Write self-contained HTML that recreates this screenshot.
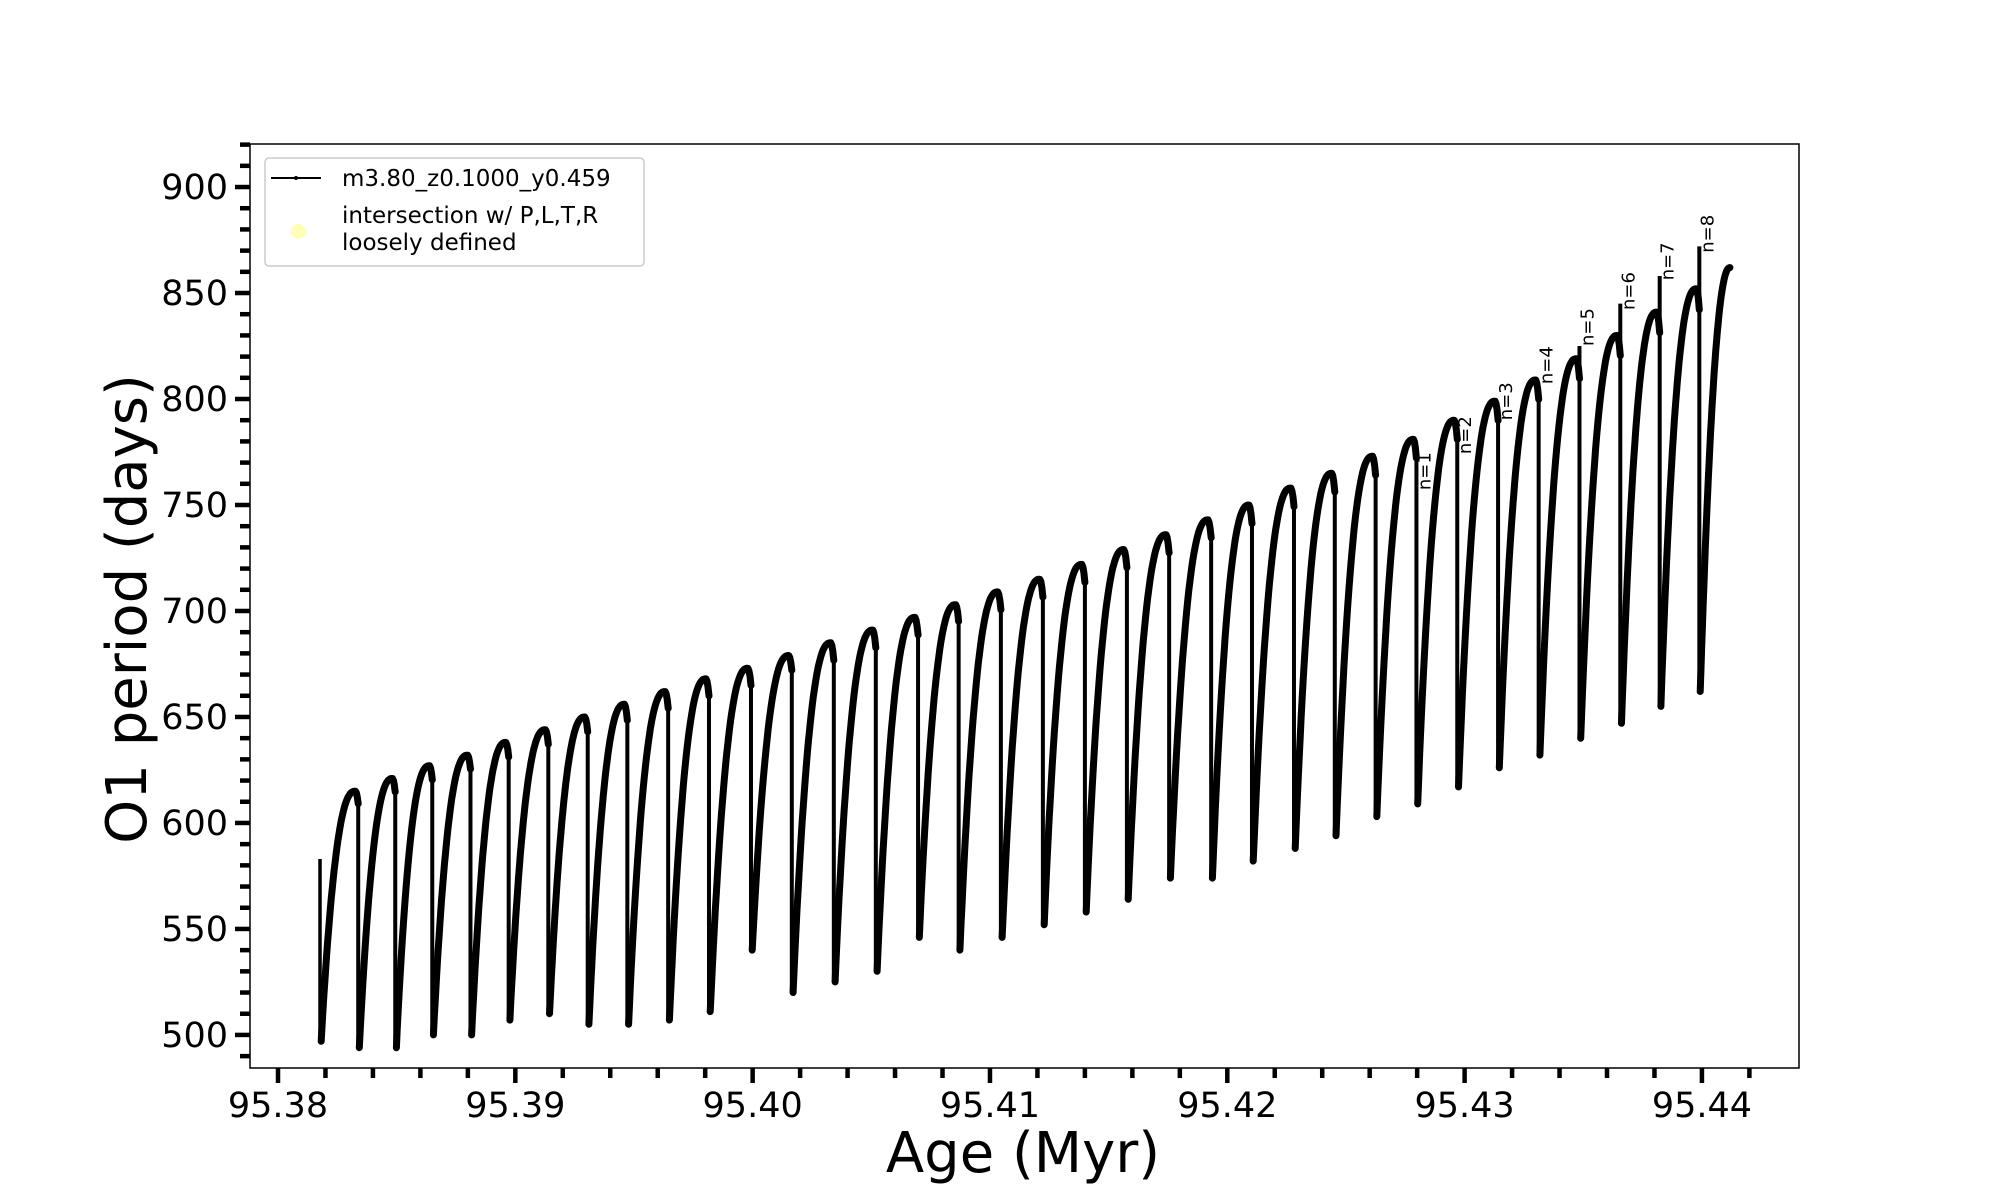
<!DOCTYPE html>
<html><head><meta charset="utf-8"><style>
html,body{margin:0;padding:0;background:#fff;}
svg{display:block;font-family:"DejaVu Sans","Liberation Sans",sans-serif;}
</style></head><body>
<svg id="chart" width="2000" height="1200" viewBox="0 0 2000 1200">
<rect x="0" y="0" width="2000" height="1200" fill="#fff"/>
<g id="plot"></g>
</svg>
<script>
// data
const dropAges = [95.38177,95.38338,95.38494,95.38650,95.38811,95.38972,95.39139,95.39305,95.39472,95.39644,95.39816,95.39993,95.40165,95.40342,95.40519,95.40697,95.40868,95.41046,95.41223,95.41400,95.41577,95.41755,95.41932,95.42104,95.42281,95.42453,95.42625,95.42797,95.42969,95.43141,95.43312,95.43484,95.43656,95.43822,95.43989];
const minPeriods = [497,494,494,500,500,507,510,505,505,507,511,540,520,525,530,546,540,546,552,558,564,574,574,582,588,594,603,609,617,626,632,640,647,655,662];
const peakPeriods = [615,621,627,632,638,644,650,656,662,668,673,679,685,691,697,703,709,715,722,729,736,743,750,758,765,773,781,790,799,809,819,830,841,852];
const startPeriod = 583;
const endAge = 95.44118;
const endPeriod = 862;
const spikeIndex = [31,32,33,34];
const spikeTops = [825,845,858,872];
const labelIndex = [27,28,29,30,31,32,33,34];
const labelTexts = ["n=1","n=2","n=3","n=4","n=5","n=6","n=7","n=8"];
const labelPeriods = [757,774,790,807,825,842,856,869];
const xTicks = [95.38,95.39,95.40,95.41,95.42,95.43,95.44];
const xTickLabels = ["95.38","95.39","95.40","95.41","95.42","95.43","95.44"];
const yTicks = [500,550,600,650,700,750,800,850,900];
const yTickLabels = ["500","550","600","650","700","750","800","850","900"];

const L=250,R=1799,T=144,B=1068;
const xMin=95.37882,xMax=95.44409,yMin=484.4,yMax=920.3;
const X=a=>L+(a-xMin)/(xMax-xMin)*(R-L);
const Y=v=>B-(v-yMin)/(yMax-yMin)*(B-T);
const NS="http://www.w3.org/2000/svg";
const g=document.getElementById('plot');
function mk(tag,attrs,parent){const e=document.createElementNS(NS,tag);for(const k in attrs)e.setAttribute(k,attrs[k]);(parent||g).appendChild(e);return e;}

const series=mk('g',{});


let l0=mk('line',{x1:X(dropAges[0]),y1:Y(startPeriod),x2:X(dropAges[0]),y2:Y(minPeriods[0]),stroke:'#000','stroke-width':3.5},series);


for(let i=0;i<dropAges.length;i++){
  const a0=dropAges[i], mn=minPeriods[i];
  const last = i===dropAges.length-1;
  const a1 = last?endAge:dropAges[i+1];
  const pk = last?endPeriod:peakPeriods[i];
  let d='';
  const N=40;
  for(let k=0;k<=N;k++){
    const t=k/N;
    let f;
    if(last){f=1-Math.pow(1-t,2.2);}
    else{
      const tp=0.92;
      if(t<=tp){f=1-Math.pow(1-t/tp,2.4);}else{const u=(t-tp)/(1-tp);f=1-0.05*u*u;}
    }
    const ax=a0+(a1-a0)*(0.03+0.97*t);
    const v=mn+(pk-mn)*f;
    d+=(k?'L':'M')+X(ax).toFixed(1)+' '+Y(v).toFixed(1);
  }
  const p=mk('path',{d:d,fill:'none',stroke:'#000','stroke-width':7,'stroke-linejoin':'round','stroke-linecap':'round'},series);
  
  
  if(!last){
    const e=pk-(pk-mn)*0.05;
    const dl=mk('line',{x1:X(a1),y1:Y(e),x2:X(a1),y2:Y(minPeriods[i+1]),stroke:'#000','stroke-width':4},series);
    
    
  }
}
for(let j=0;j<spikeIndex.length;j++){
  const a=dropAges[spikeIndex[j]];
  const s=mk('line',{x1:X(a),y1:Y(spikeTops[j]),x2:X(a),y2:Y(peakPeriods[spikeIndex[j]-1]-10),stroke:'#000','stroke-width':4},series);
  
  
}
for(let j=0;j<labelIndex.length;j++){
  const x=X(dropAges[labelIndex[j]])+14, y=Y(labelPeriods[j]);
  const t=mk('text',{x:x,y:y,transform:`rotate(-90 ${x} ${y})`,'font-size':18,fill:'#000'});
  t.textContent=labelTexts[j];
  
  
}

const fr=mk('rect',{x:L,y:T,width:R-L,height:B-T,fill:'none',stroke:'#000','stroke-width':1.5});



for(let v=490;v<=920;v+=10){
  const maj=v%50===0;
  const tk=mk('line',{x1:L-(maj?15:10),y1:Y(v),x2:L,y2:Y(v),stroke:'#000','stroke-width':4.5});
  
  
}
for(let i=0;i<yTicks.length;i++){
  const t=mk('text',{x:228,y:Y(yTicks[i])+12,'text-anchor':'end','font-size':35,fill:'#000'});
  t.textContent=yTickLabels[i];
  
  
}
for(let k=0;k<=32;k++){
  const a=95.378+k*0.002;
  if(a<xMin-1e-9||a>xMax)continue;
  const maj=k%5===1;
  const tk=mk('line',{x1:X(a),y1:B,x2:X(a),y2:B+(maj?15:10),stroke:'#000','stroke-width':4.5});
  
  
}
for(let i=0;i<xTicks.length;i++){
  const t=mk('text',{x:X(xTicks[i]),y:1117,'text-anchor':'middle','font-size':35,fill:'#000'});
  t.textContent=xTickLabels[i];
  
  
}
const xl=mk('text',{x:1023,y:1172,'text-anchor':'middle','font-size':56,fill:'#000'});
xl.textContent='Age (Myr)';


const yl=mk('text',{x:146,y:609,'text-anchor':'middle','font-size':56,fill:'#000',transform:'rotate(-90 146 609)'});
yl.textContent='O1 period (days)';



const lg=mk('g',{});


mk('rect',{x:265,y:158,width:379,height:108,rx:4,fill:'#fff',stroke:'#ccc','stroke-width':1.5},lg);
const ll=mk('line',{x1:271,y1:178,x2:321,y2:178,stroke:'#000','stroke-width':2},lg);


mk('circle',{cx:296,cy:178,r:2,fill:'#000'},lg);
const lt=mk('text',{x:342,y:186,'font-size':23,fill:'#000'},lg);
lt.textContent='m3.80_z0.1000_y0.459';


const dot=mk('circle',{cx:298,cy:231,r:7.5,fill:'#ffffb0',opacity:0.9},lg);


const lt2=mk('text',{x:342,y:223,'font-size':23,fill:'#000'},lg);
lt2.textContent='intersection w/ P,L,T,R';


const lt3=mk('text',{x:342,y:250,'font-size':23,fill:'#000'},lg);
lt3.textContent='loosely defined';


</script>
</body></html>
